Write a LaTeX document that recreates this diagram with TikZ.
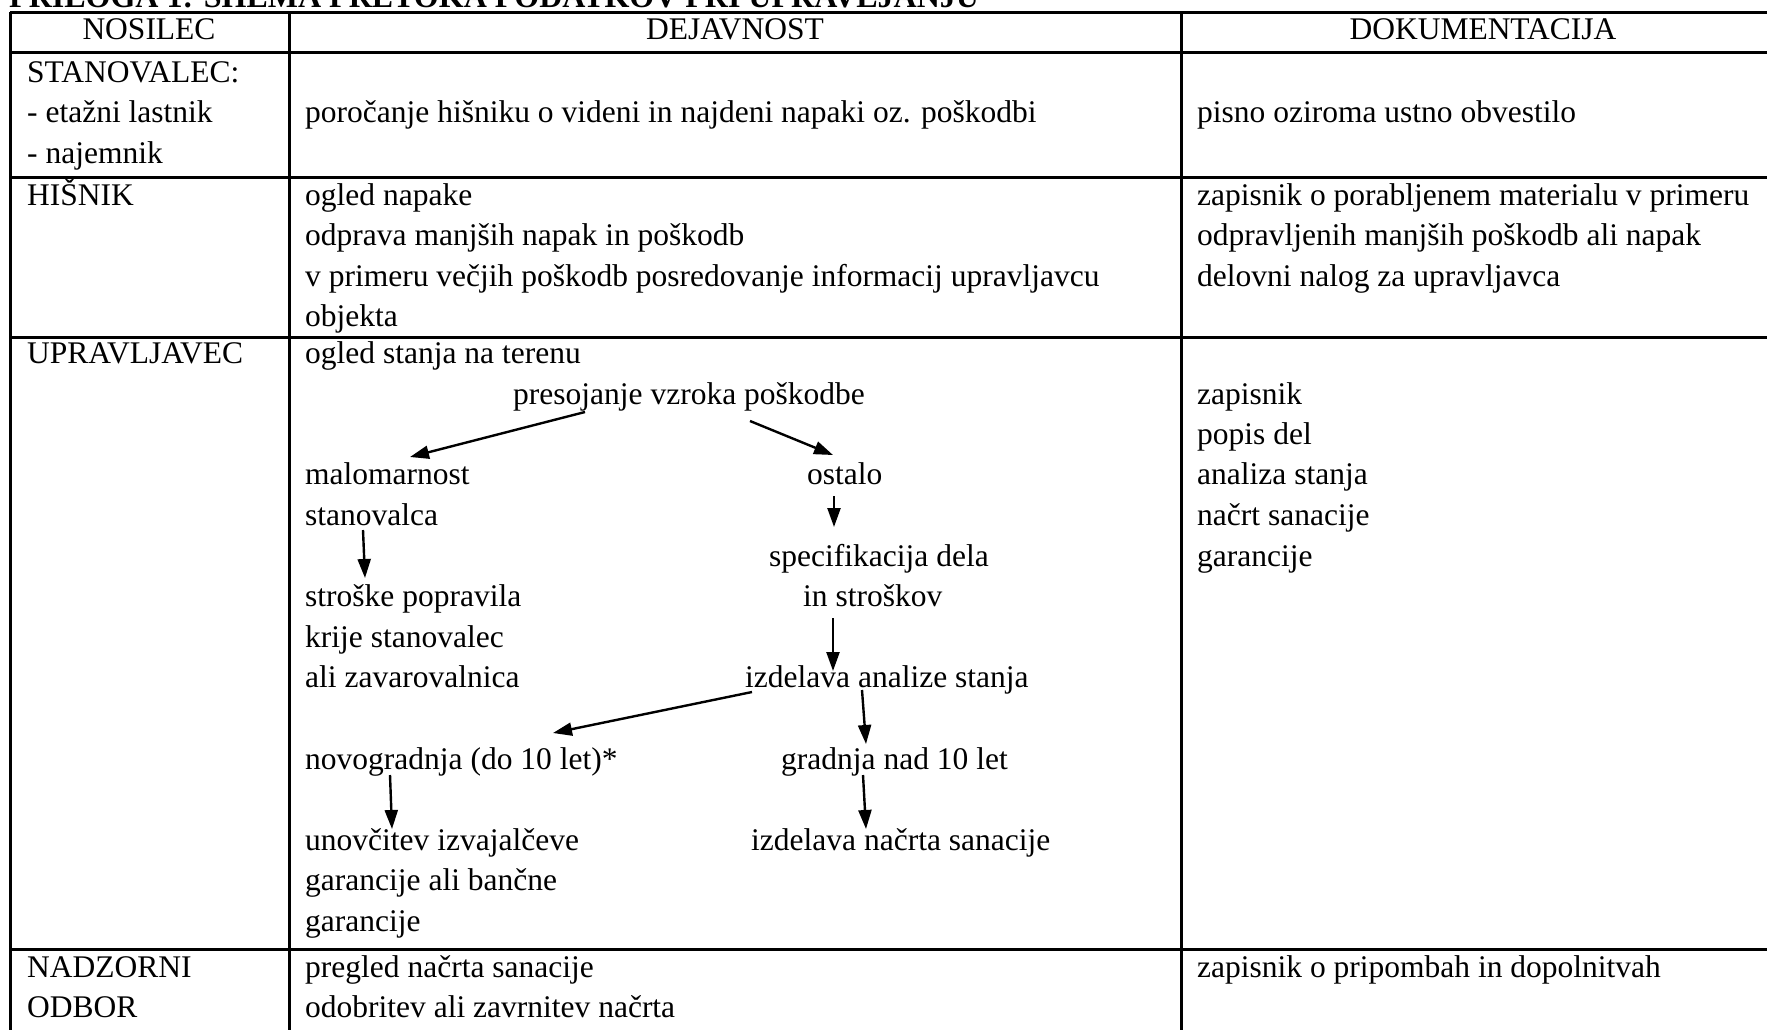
\documentclass[tikz,border=0pt]{standalone}
\usepackage{fontspec}
\setmainfont{Liberation Serif}
\usetikzlibrary{arrows.meta}
\begin{document}
\begin{tikzpicture}[x=1pt,y=-1pt,
  txt/.style={anchor=base west,inner sep=0pt,font=\fontsize{31.5}{40.6}\selectfont},
  hdr/.style={anchor=base,inner sep=0pt,font=\fontsize{31.5}{40.6}\selectfont},
  titletxt/.style={anchor=base west,inner sep=0pt,font=\fontsize{32}{40.6}\selectfont\bfseries},
  gridline/.style={line width=3pt},
  flow/.style={line width=2.4pt,-{Triangle[length=19pt,width=13pt]}}]
\useasboundingbox (0,0) rectangle (1767,1029);
% title (cut off at the top)
\node[titletxt] (title) at (9,7) {PRILOGA 1: SHEMA PRETOKA PODATKOV PRI UPRAVLJANJU};
% table grid
\draw[gridline] (10,12) -- (1800,12);
\draw[gridline] (10,52) -- (1800,52);
\draw[gridline] (10,177) -- (1800,177);
\draw[gridline] (10,337) -- (1800,337);
\draw[gridline] (10,949) -- (1800,949);
\draw[gridline] (10,12) -- (10,1040);
\draw[gridline] (289,12) -- (289,1040);
\draw[gridline] (1181,12) -- (1181,1040);
% header
\node[hdr] (h1) at (149,39.5) {NOSILEC};
\node[hdr] (h2) at (735,39.5) {DEJAVNOST};
\node[hdr] (h3) at (1483,39.5) {DOKUMENTACIJA};
% row 1
\node[txt] (s1) at (27,82) {STANOVALEC:};
\node[txt] (s2) at (27,122) {- etažni lastnik};
\node[txt] (s3) at (27,163) {- najemnik};
\node[txt] (s4) at (305,122) {poročanje hišniku o videni in najdeni napaki oz. poškodbi};
\node[txt] (s5) at (1197,122) {pisno oziroma ustno obvestilo};
% row 2
\node[txt] (k1) at (27,205) {HIŠNIK};
\node[txt] (k2) at (305,205) {ogled napake};
\node[txt] (k3) at (305,245.6) {odprava manjših napak in poškodb};
\node[txt] (k4) at (305,286.2) {v primeru večjih poškodb posredovanje informacij upravljavcu};
\node[txt] (k5) at (305,326.8) {objekta};
\node[txt] (k6) at (1197,205) {zapisnik o porabljenem materialu v primeru};
\node[txt] (k7) at (1197,245.6) {odpravljenih manjših poškodb ali napak};
\node[txt] (k8) at (1197,286.2) {delovni nalog za upravljavca};
% row 3
\node[txt] (u1) at (27,363) {UPRAVLJAVEC};
\node[txt] (u2) at (305,363) {ogled stanja na terenu};
\node[txt] (pres) at (513,404.5) {presojanje vzroka poškodbe};
\node[txt] (malo) at (305,484.8) {malomarnost};
\node[txt] (stan) at (305,525.4) {stanovalca};
\node[txt] (ost) at (807,484.8) {ostalo};
\node[txt] (spec) at (769,566) {specifikacija dela};
\node[txt] (instr) at (803,606.6) {in stroškov};
\node[txt] (strp) at (305,606.6) {stroške popravila};
\node[txt] (krije) at (305,647.2) {krije stanovalec};
\node[txt] (zav) at (305,687.8) {ali zavarovalnica};
\node[txt] (izan) at (745,687.8) {izdelava analize stanja};
\node[txt] (novo) at (305,769) {novogradnja (do 10 let)*};
\node[txt] (grad) at (781,769) {gradnja nad 10 let};
\node[txt] (unov) at (305,850.2) {unovčitev izvajalčeve};
\node[txt] (garb) at (305,890.8) {garancije ali bančne};
\node[txt] (gar) at (305,931.4) {garancije};
\node[txt] (izns) at (751,850.2) {izdelava načrta sanacije};
\node[txt] (d1) at (1197,404.5) {zapisnik};
\node[txt] (d2) at (1197,444.2) {popis del};
\node[txt] (d3) at (1197,484.8) {analiza stanja};
\node[txt] (d4) at (1197,525.4) {načrt sanacije};
\node[txt] (d5) at (1197,566) {garancije};
% row 4
\node[txt] (n1) at (27,977) {NADZORNI};
\node[txt] (n2) at (27,1017.6) {ODBOR};
\node[txt] (n3) at (305,977) {pregled načrta sanacije};
\node[txt] (n4) at (305,1017.6) {odobritev ali zavrnitev načrta};
\node[txt] (n5) at (1197,977) {zapisnik o pripombah in dopolnitvah};
% arrow end points
\coordinate (a1s) at (585,412);  \coordinate (a1e) at (410,457);
\coordinate (a2s) at (750,421);  \coordinate (a2e) at (833,455);
\coordinate (a3s) at (834,496);  \coordinate (a3e) at (834,527);
\coordinate (a4s) at (363,530);  \coordinate (a4e) at (365,578);
\coordinate (a5s) at (833,618);  \coordinate (a5e) at (833,671);
\coordinate (a6s) at (752,692);  \coordinate (a6e) at (553,733);
\coordinate (a7s) at (862,690);  \coordinate (a7e) at (866,744);
\coordinate (a8s) at (390,775);  \coordinate (a8e) at (392,829);
\coordinate (a9s) at (863,775);  \coordinate (a9e) at (866,829);
\draw[flow] (a1s) -- (a1e);
\draw[flow] (a2s) -- (a2e);
\draw[flow] (a3s) -- (a3e);
\draw[flow] (a4s) -- (a4e);
\draw[flow] (a5s) -- (a5e);
\draw[flow] (a6s) -- (a6e);
\draw[flow] (a7s) -- (a7e);
\draw[flow] (a8s) -- (a8e);
\draw[flow] (a9s) -- (a9e);
\end{tikzpicture}
\end{document}
